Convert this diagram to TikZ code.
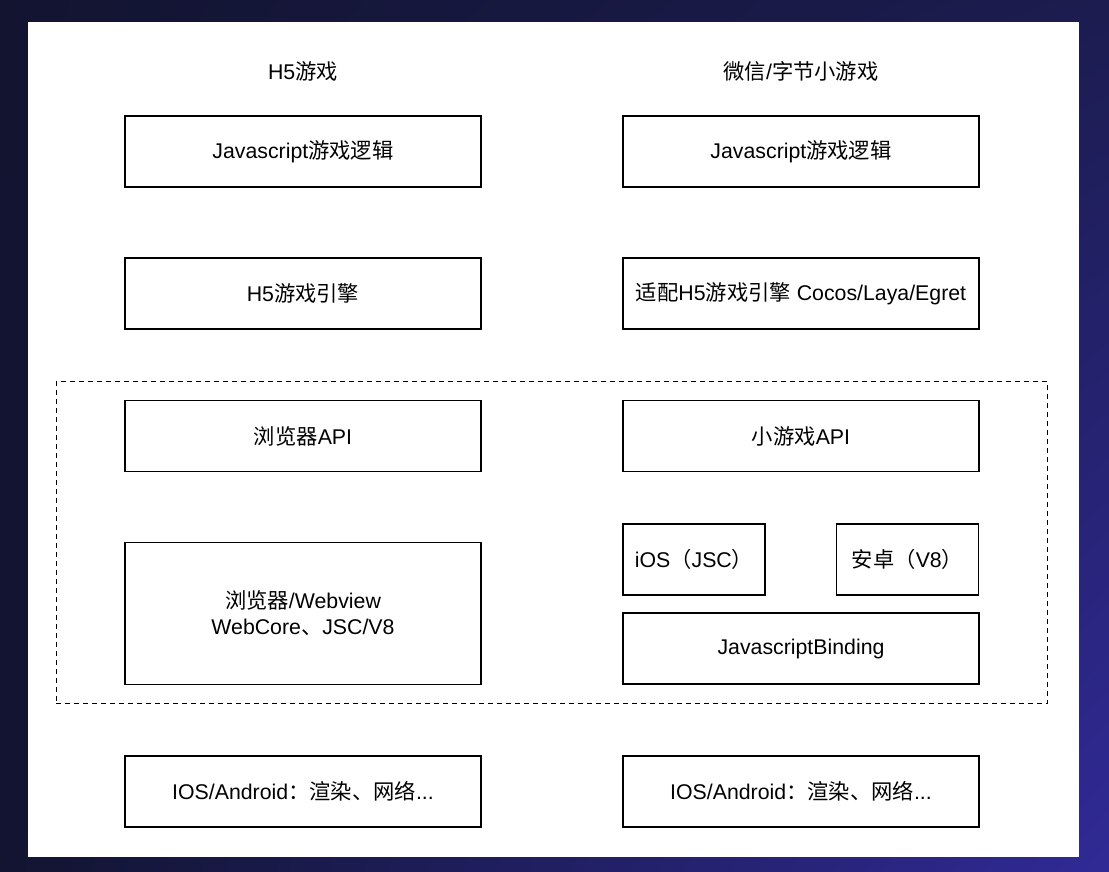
\documentclass[tikz,border=0pt]{standalone}
\usepackage{fontspec}
\setmainfont{Liberation Sans}
\newfontfamily\cjk{Noto Sans CJK SC}
\newcommand{\zh}[1]{{\cjk #1}}
\usetikzlibrary{positioning, fit, shadings}

\definecolor{bgdark}{RGB}{18,20,48}
\definecolor{bgmid}{RGB}{28,28,80}
\definecolor{bgblue}{RGB}{48,42,150}

\begin{document}
\begin{tikzpicture}[
        x=1pt, y=-1pt,
        box/.style={
          draw=black,
          line width=1.6pt,
          minimum width=356pt,
          minimum height=71pt,
          inner sep=0pt,
          font=\fontsize{21.3}{26}\selectfont,
          align=center
        },
        small/.style={
          box,
          minimum width=142pt
        },
        title/.style={
          font=\fontsize{21.3}{26}\selectfont
        },
        every fit/.style={
          inner xsep=68pt,
          inner ysep=18pt
        }
      ]
        % backdrop and panel
        \shade[upper left=bgdark, lower left=bgdark, upper right=bgmid, lower right=bgblue] (0,0) rectangle (1109,872);
        \fill[white] (28,22) rectangle (1079,857);

        % H5 games
        \node[title] (h5) at (303,71) {H5\zh{游戏}};
        \node[box] (h5js) at (303,151.5) {Javascript\zh{游戏逻辑}};
        \node[box] (h5eng) at (303,293.5) {H5\zh{游戏引擎}};
        \node[box] (h5api) at (303,436) {\zh{浏览器}API};
        \node[box,minimum height=142pt] (h5web) at (303,613.5) {\zh{浏览器}/Webview\\WebCore\zh{、}JSC/V8};
        \node[box] (h5os) at (303,791.5) {IOS/Android\zh{：渲染、网络}...};

        % mini games
        \node[title] (mg) at (801,71) {\zh{微信}/\zh{字节小游戏}};
        \node[box] (mgjs) at (801,151.5) {Javascript\zh{游戏逻辑}};
        \node[box] (mgeng) at (801,293.5) {\zh{适配}H5\zh{游戏引擎} Cocos/Laya/Egret};
        \node[box] (mgapi) at (801,436) {\zh{小游戏}API};
        \node[small] (ios) at (694,559.5) {iOS\zh{（}JSC\zh{）}};
        \node[small] (android) at (907.5,559.5) {\zh{安卓（}V8\zh{）}};
        \node[box] (bind) at (801,648.5) {JavascriptBinding};
        \node[box] (mgos) at (801,791.5) {IOS/Android\zh{：渲染、网络}...};

        % runtime group
        \node[draw=black,line width=1.2pt,dash pattern=on 5pt off 4pt,fit=(h5api) (h5web) (bind)] (runtime) {};
      \end{tikzpicture}
\end{document}
